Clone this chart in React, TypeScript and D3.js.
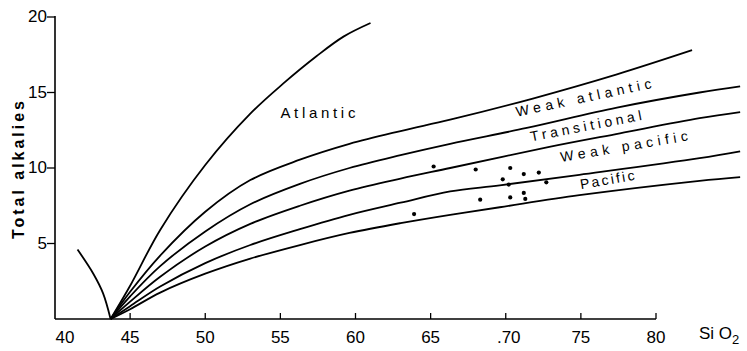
import React from "react";
import * as d3 from "d3";

const width = 747;
const height = 351;

// axis ticks
const xTicks = [40, 45, 50, 55, 60, 65, 70, 75, 80];
const xTickLabels = ["40", "45", "50", "55", "60", "65", ".70", "75", "80"];
const yTicks = [5, 10, 15, 20];

// series boundary curves (SiO2, total alkalies)
const atlanticX = [43.7, 45.0, 47.0, 50.0, 53.0, 55.2, 57.4, 59.2, 61.0];
const atlanticY = [0, 2.2, 5.9, 10.2, 13.6, 15.6, 17.4, 18.7, 19.6];

const weakAtlanticX = [43.7, 45, 47, 50, 53, 56.3, 59.6, 63.0, 66.3, 71.8, 77.4, 82.4];
const weakAtlanticY = [0, 1.8, 4.2, 7.1, 9.2, 10.55, 11.6, 12.45, 13.2, 14.6, 16.2, 17.8];

const transitionalX = [43.7, 45, 47, 50, 53, 56.3, 59.6, 63.0, 66.3, 71.4, 77.4, 82.9, 85.6];
const transitionalY = [0, 1.5, 3.5, 5.8, 7.6, 8.95, 10.0, 10.85, 11.6, 12.65, 14.0, 15.0, 15.4];

const weakPacificX = [43.7, 45, 47, 50, 53, 56.3, 59.6, 63.0, 66.3, 72.9, 77.6, 82.9, 85.6];
const weakPacificY = [0, 1.15, 2.8, 4.8, 6.3, 7.5, 8.5, 9.3, 10.0, 11.4, 12.3, 13.3, 13.7];

const pacificX = [43.7, 45, 47, 50, 53, 56.3, 59.6, 63.0, 66.3, 69.6, 74.9, 82.9, 85.6];
const pacificY = [0, 0.85, 2.15, 3.7, 4.9, 5.95, 6.9, 7.7, 8.45, 8.85, 9.55, 10.65, 11.1];

const lowerX = [43.7, 45, 47, 50, 53, 56.3, 59.6, 63.0, 66.3, 69.6, 74.9, 82.9, 85.6];
const lowerY = [0, 0.65, 1.75, 3.0, 4.0, 4.9, 5.7, 6.35, 6.9, 7.4, 8.2, 9.15, 9.4];

const leftX = [41.5, 42.55, 43.2, 43.7];
const leftY = [4.6, 3.0, 1.7, 0];

// samples
const sampleSiO2 = [65.2, 68.0, 70.3, 71.2, 72.2, 69.8, 70.2, 72.7, 68.3, 70.3, 71.2, 71.3, 63.9];
const sampleAlk = [10.1, 9.9, 10.0, 9.6, 9.7, 9.25, 8.9, 9.05, 7.9, 8.05, 8.35, 7.95, 6.95];

// field names: text, SiO2 / alkalies at start of baseline, angle, length
const fieldNames = ["Atlantic", "Weak atlantic", "Transitional", "Weak pacific", "Pacific"];
const fieldX = [55.0, 70.75, 71.7, 73.7, 75.0];
const fieldY = [13.3, 13.4, 11.75, 10.4, 8.6];
const fieldAngle = [0, -12, -11, -9.6, -9.7];
const fieldLen = [75, 138, 113, 129, 55];

const curves = [
  [atlanticX, atlanticY],
  [weakAtlanticX, weakAtlanticY],
  [transitionalX, transitionalY],
  [weakPacificX, weakPacificY],
  [pacificX, pacificY],
  [lowerX, lowerY],
  [leftX, leftY],
];

const App = () => {
  const x = d3.scaleLinear().domain([40, 80]).range([55, 656]);
  const y = d3.scaleLinear().domain([0, 20]).range([319, 17]);

  const line = d3
    .line<[number, number]>()
    .curve(d3.curveCatmullRom.alpha(0.5))
    .x((d) => x(d[0]))
    .y((d) => y(d[1]));

  const font = "'Liberation Sans', Arial, sans-serif";

  return (
    <svg
      width={width}
      height={height}
      style={{ position: "absolute", left: 0, top: 0, background: "#fff" }}
      fontFamily={font}
    >
      {/* axes */}
      <line x1={x(40)} x2={x(40)} y1={y(0)} y2={y(20) - 1} stroke="#000" strokeWidth={1.6} />
      <line x1={x(40)} x2={x(80)} y1={y(0)} y2={y(0)} stroke="#000" strokeWidth={1.6} />
      {xTicks.slice(1).map((t) => (
        <line key={t} x1={x(t)} x2={x(t)} y1={y(0)} y2={y(0) - 6} stroke="#000" strokeWidth={1.3} />
      ))}
      {xTicks.map((t, i) => (
        <text
          key={t}
          x={x(t) + (i === 0 ? 10 : i === 6 ? 3 : 0)}
          y={343}
          fontSize={17}
          textAnchor="middle"
        >
          {xTickLabels[i]}
        </text>
      ))}
      <text x={699} y={339} fontSize={17}>
        Si O
        <tspan fontSize={13} dy={5}>2</tspan>
      </text>
      {yTicks.map((t) => (
        <g key={t}>
          <line x1={x(40) - 8} x2={x(40)} y1={y(t)} y2={y(t)} stroke="#000" strokeWidth={1.3} />
          <text x={x(40) - 8} y={y(t) + 5} fontSize={17} textAnchor="end">
            {t}
          </text>
        </g>
      ))}
      <text
        transform={`translate(24,${y(10) + 2}) rotate(-90)`}
        fontSize={16}
        fontWeight="bold"
        textAnchor="middle"
        textLength={138}
        lengthAdjust="spacing"
      >
        Total alkalies
      </text>

      {/* boundary curves */}
      {curves.map(([xs, ys], i) => (
        <path
          key={i}
          d={line(xs.map((v, j) => [v, ys[j]] as [number, number])) || ""}
          fill="none"
          stroke="#000"
          strokeWidth={1.8}
        />
      ))}

      {/* samples */}
      {sampleSiO2.map((v, i) => (
        <circle key={i} cx={x(v)} cy={y(sampleAlk[i])} r={2.1} fill="#000" />
      ))}

      {/* field names */}
      {fieldNames.map((name, i) => (
        <text
          key={name}
          transform={`translate(${x(fieldX[i])},${y(fieldY[i])}) rotate(${fieldAngle[i]})`}
          fontSize={i === 0 ? 15 : 14}
          textLength={fieldLen[i]}
          lengthAdjust="spacing"
        >
          {name}
        </text>
      ))}
    </svg>
  );
};

export default App;
